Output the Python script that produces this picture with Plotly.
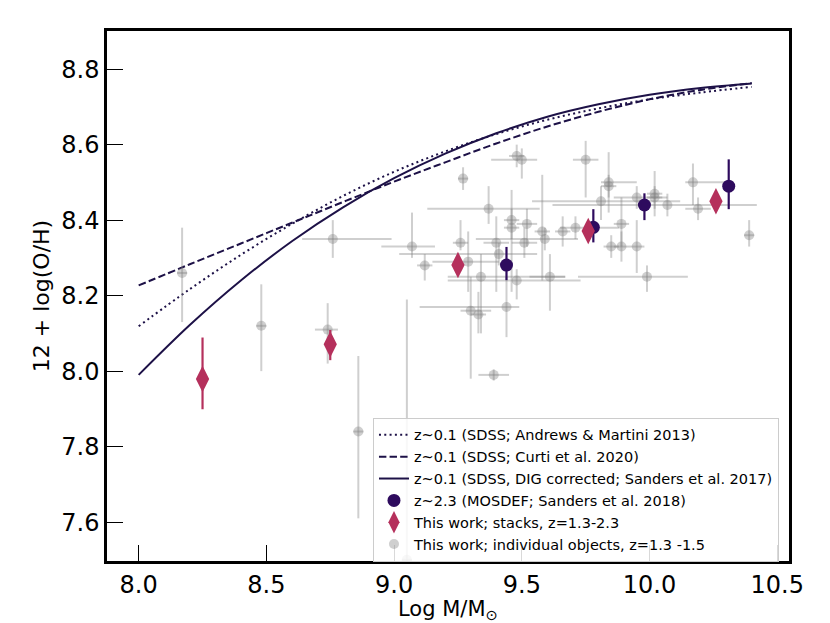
import plotly.graph_objects as go

# ---- MZR curves (z~0.1) ----
curve_mass = [8.0, 8.2, 8.4, 8.6, 8.8, 9.0, 9.2, 9.4, 9.6, 9.8, 10.0, 10.2, 10.4]
am13_oh = [8.119, 8.217, 8.308, 8.390, 8.464, 8.528, 8.582, 8.628, 8.666, 8.696, 8.720, 8.738, 8.753]
curti20_oh = [8.227, 8.283, 8.338, 8.393, 8.448, 8.502, 8.553, 8.603, 8.648, 8.687, 8.720, 8.745, 8.763]
sanders17_oh = [7.990, 8.122, 8.240, 8.344, 8.434, 8.511, 8.576, 8.630, 8.674, 8.707, 8.732, 8.750, 8.762]

# ---- MOSDEF z~2.3 ----
mosdef_mass = [9.44, 9.78, 9.98, 10.31]
mosdef_oh = [8.281, 8.381, 8.440, 8.490]
mosdef_err_lo = [0.040, 0.040, 0.040, 0.061]
mosdef_err_hi = [0.048, 0.048, 0.031, 0.071]

# ---- This work: stacks ----
stack_mass = [8.25, 8.75, 9.25, 9.76, 10.26]
stack_oh = [7.979, 8.071, 8.281, 8.371, 8.450]
stack_err_lo = [0.080, 0.042, 0.02, 0.02, 0.02]
stack_err_hi = [0.110, 0.038, 0.02, 0.02, 0.02]

# ---- This work: individual objects ----
ind_mass = [8.17, 8.48, 8.74, 8.76, 8.86, 9.07, 9.12, 9.05, 9.27, 9.37,
            9.26, 9.29, 9.34, 9.40, 9.41, 9.46, 9.46, 9.52, 9.51, 9.48,
            9.58, 9.59, 9.66, 9.71, 9.61, 9.30, 9.33, 9.44, 9.39, 9.48,
            9.50, 9.75, 9.84, 9.84, 9.81, 9.95, 10.02, 10.02, 10.07, 10.17,
            10.19, 10.39, 9.89, 9.85, 9.89, 9.95, 9.99]
ind_oh = [8.26, 8.12, 8.11, 8.35, 7.84, 8.33, 8.28, 7.50, 8.51, 8.43,
          8.34, 8.29, 8.25, 8.34, 8.31, 8.40, 8.38, 8.39, 8.34, 8.24,
          8.37, 8.35, 8.37, 8.38, 8.25, 8.16, 8.15, 8.17, 7.99, 8.57,
          8.56, 8.56, 8.50, 8.49, 8.45, 8.46, 8.47, 8.46, 8.44, 8.50,
          8.43, 8.36, 8.39, 8.33, 8.33, 8.33, 8.25]
ind_xerr_lo = [0.02, 0.02, 0.05, 0.12, 0.02, 0.12, 0.03, 0.02, 0.02, 0.24,
               0.03, 0.14, 0.13, 0.05, 0.39, 0.03, 0.03, 0.04, 0.05, 0.27,
               0.03, 0.27, 0.03, 0.06, 0.08, 0.04, 0.03, 0.34, 0.06, 0.03,
               0.12, 0.05, 0.03, 0.03, 0.27, 0.09, 0.03, 0.03, 0.45, 0.03,
               0.05, 0.02, 0.03, 0.03, 0.03, 0.03, 0.27]
ind_xerr_hi = [0.02, 0.02, 0.04, 0.23, 0.02, 0.09, 0.03, 0.02, 0.02, 0.20,
               0.03, 0.12, 0.33, 0.05, 0.15, 0.03, 0.03, 0.04, 0.05, 0.25,
               0.03, 0.13, 0.03, 0.17, 0.06, 0.08, 0.03, 0.05, 0.06, 0.03,
               0.06, 0.05, 0.11, 0.03, 0.31, 0.12, 0.03, 0.03, 0.35, 0.13,
               0.05, 0.02, 0.03, 0.03, 0.03, 0.03, 0.16]
ind_yerr_lo = [0.13, 0.12, 0.09, 0.05, 0.23, 0.03, 0.04, 0.50, 0.03, 0.04,
               0.02, 0.08, 0.15, 0.13, 0.03, 0.05, 0.17, 0.06, 0.04, 0.05,
               0.13, 0.03, 0.04, 0.03, 0.09, 0.18, 0.05, 0.08, 0.015, 0.03,
               0.05, 0.10, 0.08, 0.03, 0.05, 0.03, 0.06, 0.03, 0.03, 0.06,
               0.03, 0.03, 0.06, 0.03, 0.04, 0.07, 0.04]
ind_yerr_hi = [0.12, 0.11, 0.07, 0.05, 0.20, 0.09, 0.03, 0.69, 0.03, 0.06,
               0.06, 0.08, 0.06, 0.07, 0.03, 0.08, 0.05, 0.04, 0.04, 0.03,
               0.15, 0.03, 0.04, 0.03, 0.06, 0.09, 0.06, 0.08, 0.015, 0.03,
               0.03, 0.05, 0.08, 0.03, 0.04, 0.03, 0.06, 0.03, 0.03, 0.05,
               0.03, 0.04, 0.07, 0.03, 0.04, 0.07, 0.03]

x_ticks = [8.0, 8.5, 9.0, 9.5, 10.0, 10.5]
y_ticks = [7.6, 7.8, 8.0, 8.2, 8.4, 8.6, 8.8]

LINE_COLOR = "#1d1147"
MOSDEF_COLOR = "#2e0b5e"
STACK_COLOR = "#b5305c"
GREY = "rgba(128,128,128,0.38)"

fig = go.Figure()

fig.add_trace(go.Scatter(
    x=curve_mass, y=am13_oh, mode="lines", line_shape="spline",
    line=dict(color=LINE_COLOR, width=2, dash="2px,3.3px"),
    name="z~0.1 (SDSS; Andrews & Martini 2013)", legendrank=1))
fig.add_trace(go.Scatter(
    x=curve_mass, y=curti20_oh, mode="lines", line_shape="spline",
    line=dict(color=LINE_COLOR, width=2, dash="7.4px,3.2px"),
    name="z~0.1 (SDSS; Curti et al. 2020)", legendrank=2))
fig.add_trace(go.Scatter(
    x=curve_mass, y=sanders17_oh, mode="lines", line_shape="spline",
    line=dict(color=LINE_COLOR, width=2),
    name="z~0.1 (SDSS, DIG corrected; Sanders et al. 2017)", legendrank=3))

fig.add_trace(go.Scatter(
    x=ind_mass, y=ind_oh, mode="markers",
    marker=dict(color="grey", size=10, opacity=0.38, line=dict(width=0)),
    error_x=dict(type="data", symmetric=False, array=ind_xerr_hi, arrayminus=ind_xerr_lo,
                 color=GREY, thickness=2, width=0),
    error_y=dict(type="data", symmetric=False, array=ind_yerr_hi, arrayminus=ind_yerr_lo,
                 color=GREY, thickness=2, width=0),
    name="This work; individual objects, z=1.3 -1.5", legendrank=6))

fig.add_trace(go.Scatter(
    x=mosdef_mass, y=mosdef_oh, mode="markers",
    marker=dict(color=MOSDEF_COLOR, size=13, symbol="circle", line=dict(width=0)),
    error_y=dict(type="data", symmetric=False, array=mosdef_err_hi, arrayminus=mosdef_err_lo,
                 color=MOSDEF_COLOR, thickness=2.2, width=0),
    name="z~2.3 (MOSDEF; Sanders et al. 2018)", legendrank=4))

fig.add_trace(go.Scatter(
    x=stack_mass, y=stack_oh, mode="markers",
    marker=dict(color=STACK_COLOR, size=19, symbol="diamond-tall", line=dict(width=0)),
    error_y=dict(type="data", symmetric=False, array=stack_err_hi, arrayminus=stack_err_lo,
                 color=STACK_COLOR, thickness=2.2, width=0),
    name="This work; stacks, z=1.3-2.3", legendrank=5))

axis_common = dict(
    showgrid=False, zeroline=False, showline=True, mirror=True,
    linecolor="black", linewidth=2.5,
    ticks="inside", ticklen=16, tickwidth=1.3, tickcolor="black",
    tickfont=dict(family="DejaVu Sans", size=24, color="black"),
    tickformat=".1f",
)

fig.update_layout(
    width=822, height=615,
    margin=dict(l=99, r=41, t=23, b=62),
    paper_bgcolor="white", plot_bgcolor="white",
    font=dict(family="DejaVu Sans", color="black"),
    xaxis=dict(range=[7.876, 10.546], tickvals=x_ticks, **axis_common),
    yaxis=dict(range=[7.497, 8.901], tickvals=y_ticks,
               title=dict(text="12 + log(O/H)", font=dict(size=22), standoff=6),
               **axis_common),
    legend=dict(
        x=0.39, y=0.27, xanchor="left", yanchor="top",
        bgcolor="rgba(255,255,255,0.85)", bordercolor="#cccccc", borderwidth=1,
        font=dict(family="DejaVu Sans", size=14.5, color="black"),
        tracegroupgap=0, itemwidth=30,
    ),
    annotations=[dict(
        text="Log M/M<sub>⊙</sub>", xref="paper", yref="paper",
        x=0.5, y=0, xanchor="center", yanchor="top", yshift=-34,
        showarrow=False, font=dict(family="DejaVu Sans", size=21, color="black"),
    )],
    showlegend=True,
)

fig.write_html("out.html")
